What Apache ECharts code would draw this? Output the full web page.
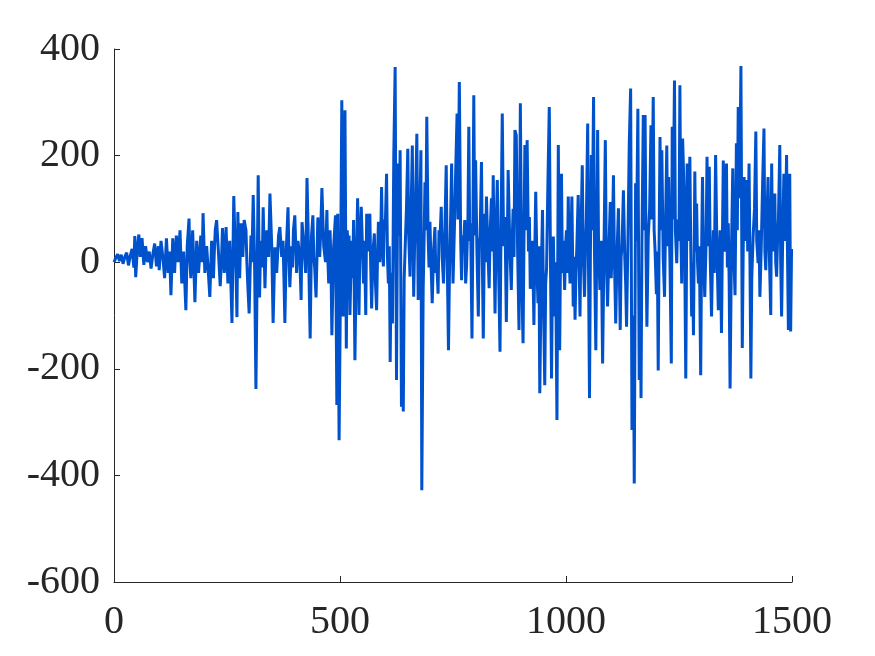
<!DOCTYPE html>
<html>
<head>
<meta charset="utf-8">
<script src="https://cdn.jsdelivr.net/npm/echarts@6/dist/echarts.min.js"></script>
<style>
  html, body { margin: 0; padding: 0; background: #fff; }
  #chart { width: 875px; height: 656px; }
</style>
</head>
<body>
<div id="chart"></div>
<script>
// [sample, value] vertices of the trace
const samples = [
  [0, 0], [4, 8], [8, 15], [12, 2], [16, 14], [20, -3], [24, 10], [28, 18], [32, -6], [36, 12], [40, 25], [44, -10],
  [46, 49], [48, -28], [52, 30], [55, 52], [58, 10], [62, 45], [66, -5], [70, 30], [74, 0], [78, 20], [82, -12],
  [86, 15], [90, 35], [94, -8], [98, 30], [100, -15], [104, 40], [108, 10], [112, -30], [116, 45], [120, -20],
  [123, 20], [126, -62], [130, 45], [134, -20], [138, 50], [142, 0], [146, 60], [150, -40], [154, 20], [159, -90],
  [162, 30], [166, 82], [168, 0], [170, -30], [174, 60], [176, 10], [179, -75], [183, 40], [187, -20], [190, 20],
  [192, 50], [195, 0], [197, 92], [201, -20], [205, 30], [208, -10], [212, -65], [216, 40], [220, -30], [222, 20],
  [224, 60], [227, 79], [231, 20], [235, -45], [238, 10], [240, 64], [244, -20], [248, 66], [250, 10], [252, -40],
  [256, 40], [261, -114], [265, 124], [268, 30], [270, -20], [272, -103], [274, 94], [276, 20], [278, -30],
  [281, 73], [285, 10], [288, 79], [292, 60], [294, 0], [296, -43], [299, -96], [303, 50], [305, 0], [308, 126],
  [311, 0], [314, -238], [319, 163], [322, -66], [324, 20], [326, 40], [328, -10], [330, 103], [334, -49], [336, 20],
  [338, 60], [342, 10], [345, 129], [349, 30], [352, -114], [356, 28], [358, -10], [360, -20], [364, 50], [367, 66],
  [371, 10], [374, 40], [376, -30], [378, -114], [381, 20], [385, 103], [387, 10], [389, -47], [393, 30], [395, -10],
  [397, 60], [400, 88], [404, -20], [407, 40], [411, 10], [414, -71], [416, 75], [420, 30], [424, -20], [427, 158],
  [430, 40], [434, -143], [437, 50], [440, 88], [442, 10], [444, -10], [447, -66], [451, 84], [455, 10], [457, 50],
  [460, 139], [464, 30], [468, 0], [471, 98], [473, 10], [475, -40], [478, 60], [480, 0], [482, -137], [486, 30],
  [490, 88], [493, -268], [495, 91], [498, -334], [501, -50], [504, 304], [507, -102], [509, 120], [511, 285],
  [514, -162], [516, 60], [518, 23], [520, 50], [522, -99], [524, -20], [526, 40], [528, -30], [530, 79],
  [533, -184], [536, 0], [539, 120], [542, -99], [544, 30], [547, 104], [550, 20], [552, -40], [554, 40],
  [557, -99], [559, 91], [562, 20], [564, 60], [566, 91], [568, -10], [570, -87], [573, 20], [576, 54], [578, -30],
  [581, -90], [583, 10], [585, 76], [588, 0], [590, 40], [592, 141], [594, 30], [596, -8], [598, 80], [600, 60],
  [603, 166], [605, 10], [607, -40], [609, 30], [611, -187], [613, -20], [616, -115], [619, 200], [622, 366],
  [625, -221], [627, 60], [629, 185], [631, 50], [633, 210], [636, -271], [638, -100], [640, -280], [642, -30],
  [644, 23], [647, 100], [650, 213], [652, 50], [655, -27], [657, 80], [660, 219], [663, -65], [665, 30],
  [667, 100], [670, 241], [673, -71], [676, 60], [679, 210], [681, -428], [684, -52], [686, 40], [688, 150],
  [690, 60], [692, 273], [695, 48], [697, -10], [699, 76], [701, 10], [704, -77], [707, 20], [710, 66], [712, -20],
  [714, 0], [717, -59], [719, 60], [721, 40], [724, 104], [726, 10], [729, -40], [732, 60], [735, 182], [737, 20],
  [740, -165], [742, -30], [744, 50], [747, 185], [750, -40], [753, 60], [756, 173], [759, 279], [761, 80],
  [764, 338], [767, 40], [769, -34], [771, 50], [773, 20], [776, 79], [778, -40], [780, -8], [783, 80], [785, 254],
  [787, 40], [789, 73], [792, -143], [794, 60], [796, 313], [798, 50], [800, 191], [803, 20], [806, -102],
  [808, 30], [810, 50], [813, 188], [815, 0], [817, -143], [820, 91], [822, 0], [824, 123], [827, 30], [830, -49],
  [832, 50], [835, 120], [837, 20], [839, 163], [841, 20], [843, -96], [845, 40], [848, 154], [851, -20],
  [854, -168], [856, 40], [859, 279], [862, 30], [865, 85], [868, -112], [870, 20], [872, 173], [876, 20],
  [879, -52], [881, 40], [883, 100], [885, 10], [887, 248], [890, 238], [893, 20], [896, -127], [899, 298],
  [902, -30], [905, -152], [907, 40], [909, 220], [912, 60], [914, 229], [917, 20], [919, 85], [921, -50],
  [924, -34], [926, 40], [929, -118], [931, 20], [933, 132], [936, -20], [938, -77], [940, 30], [942, -246],
  [945, -40], [948, 98], [950, -60], [953, -231], [955, -40], [957, -12], [960, 150], [963, 291], [966, -30],
  [968, -218], [970, -20], [972, 48], [975, -102], [977, 0], [980, -296], [983, 220], [986, -165], [988, 30],
  [990, 166], [992, -20], [994, 40], [997, -52], [999, 30], [1001, 60], [1003, -20], [1005, 123], [1007, 10],
  [1009, -40], [1011, 40], [1013, 123], [1016, -83], [1018, 10], [1020, -108], [1022, -20], [1024, 30],
  [1027, 126], [1029, 0], [1031, -102], [1033, 50], [1036, 182], [1038, 20], [1041, -65], [1043, 20], [1045, 80],
  [1048, 260], [1050, -30], [1052, -255], [1054, 20], [1056, 201], [1058, 60], [1061, 310], [1063, 20],
  [1066, -165], [1068, 40], [1070, 248], [1072, 30], [1075, -52], [1078, 40], [1081, -190], [1084, 20],
  [1087, 229], [1089, 20], [1092, -83], [1095, 30], [1098, 113], [1100, -30], [1102, 20], [1105, 163], [1107, 10],
  [1110, -115], [1113, 20], [1116, 101], [1118, -20], [1120, -127], [1122, 10], [1124, 30], [1127, 135],
  [1130, 10], [1132, -40], [1134, -121], [1137, 40], [1140, 223], [1143, 326], [1146, -315], [1149, -100],
  [1151, -415], [1154, 148], [1156, 40], [1159, 288], [1162, -221], [1164, -40], [1166, -255], [1168, 40],
  [1171, 276], [1173, 60], [1175, 276], [1177, 20], [1179, -121], [1182, 48], [1185, 100], [1188, 257],
  [1190, 80], [1193, 310], [1195, 60], [1197, 23], [1200, -60], [1202, 20], [1204, -203], [1206, 40], [1208, 235],
  [1210, 60], [1212, 210], [1215, 10], [1218, -65], [1220, 60], [1223, 219], [1225, 30], [1227, 160], [1230, 0],
  [1233, -190], [1235, 254], [1237, 80], [1240, 341], [1242, 60], [1245, -2], [1247, 80], [1250, 40], [1252, 332],
  [1254, 60], [1256, -40], [1258, 232], [1261, 141], [1263, -20], [1265, -218], [1268, 185], [1271, 40],
  [1274, 198], [1276, 30], [1278, -102], [1280, 0], [1282, -137], [1285, 170], [1287, 20], [1289, 110], [1291, 0],
  [1293, -40], [1295, 30], [1298, -212], [1300, 20], [1302, 160], [1304, 20], [1307, -65], [1310, 40], [1312, 198],
  [1315, 30], [1317, 179], [1319, 10], [1322, -102], [1324, 0], [1326, 60], [1328, -20], [1331, 201], [1334, 20],
  [1337, -90], [1339, 10], [1341, 60], [1344, -133], [1346, 40], [1348, 191], [1350, 20], [1352, 40], [1355, 185],
  [1357, -10], [1359, 73], [1361, -40], [1363, -237], [1366, 20], [1369, 176], [1371, 20], [1374, -62], [1377, 223],
  [1379, 60], [1381, 291], [1384, 120], [1387, 368], [1390, -161], [1392, 20], [1394, 160], [1397, 40], [1400, 154],
  [1402, 20], [1405, 185], [1407, 0], [1409, -218], [1411, -30], [1414, 48], [1417, 100], [1420, 245], [1422, 40],
  [1425, -2], [1427, 60], [1429, -65], [1432, 30], [1435, 148], [1438, 251], [1440, 20], [1442, -15], [1444, 60],
  [1447, 160], [1450, 10], [1453, -99], [1455, 185], [1457, 20], [1459, 60], [1462, 129], [1464, 0], [1466, -27],
  [1468, 40], [1470, 80], [1473, 220], [1475, 0], [1477, -102], [1479, 20], [1482, 166], [1485, 40], [1488, 201],
  [1490, 20], [1492, -127], [1495, 166], [1497, -130], [1499, 25]
];
const xTicks = [0, 500, 1000, 1500];
const yTicks = [-600, -400, -200, 0, 200, 400];

const chart = echarts.init(document.getElementById('chart'));

const axisText = {
  color: '#262626',
  fontFamily: 'Liberation Serif',
  fontSize: 40,
  formatter: v => String(v)
};

chart.setOption({
  animation: false,
  grid: {
    left: 114,
    right: 83,
    top: 49,
    bottom: 74
  },
  xAxis: {
    type: 'value',
    min: xTicks[0],
    max: xTicks[xTicks.length - 1],
    interval: 500,
    axisLine: { onZero: false, lineStyle: { color: '#262626', width: 1 } },
    axisTick: { inside: true, length: 6, lineStyle: { color: '#262626' } },
    axisLabel: { ...axisText, margin: 20 },
    splitLine: { show: false }
  },
  yAxis: {
    type: 'value',
    min: yTicks[0],
    max: yTicks[yTicks.length - 1],
    interval: 200,
    axisLine: { show: true, onZero: false, lineStyle: { color: '#262626', width: 1 } },
    axisTick: { show: true, inside: true, length: 6, lineStyle: { color: '#262626' } },
    axisLabel: { ...axisText, margin: 14 },
    splitLine: { show: false }
  },
  series: [
    {
      type: 'line',
      data: samples,
      symbol: 'none',
      lineStyle: { color: '#0052cc', width: 3 }
    }
  ]
});
</script>
</body>
</html>
